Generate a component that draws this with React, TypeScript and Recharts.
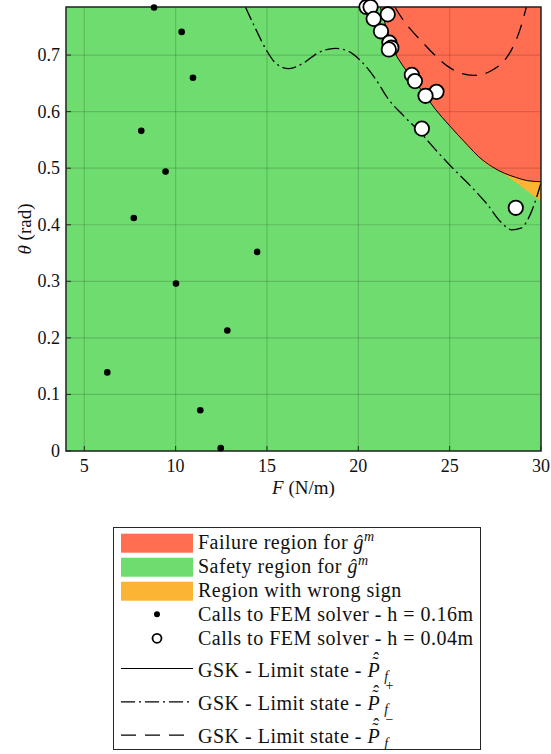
import { ComposedChart, XAxis, YAxis, CartesianGrid, Area, Line, Scatter, ReferenceArea, Label } from 'recharts'

const GREEN = '#6edc6e'
const RED = '#ff6e50'
const ORANGE = '#fbb434'
const INK = '#262626'
const FONT = "'Liberation Serif', 'DejaVu Serif', 'Noto Serif', serif"

const F_MIN = 4
const F_MAX = 30
const TH_MAX = 0.785

const fTicks = [5, 10, 15, 20, 25, 30]
const thetaTicks = [0, 0.1, 0.2, 0.3, 0.4, 0.5, 0.6, 0.7]

// GSK limit state, P_f
const limitF = [21.2, 21.5, 21.8, 22.0, 22.4, 23.0, 23.5, 24.2, 25.0, 26.0, 26.6, 27.3, 28.0, 28.6, 29.25, 30.0]
const limitTheta = [0.785, 0.752, 0.722, 0.705, 0.683, 0.657, 0.636, 0.605, 0.575, 0.54, 0.52, 0.503, 0.491, 0.484, 0.478, 0.476]

// upper bound P_f^+
const upperF = [13.82, 14.4, 15.0, 15.5, 16.2, 17.0, 17.8, 18.75, 19.5, 20.03, 21.0, 21.58, 22.5, 23.4, 24.3, 25.23, 26.1, 27.06, 27.8, 28.4, 28.9, 29.45, 30.0]
const upperTheta = [0.785, 0.745, 0.707, 0.685, 0.676, 0.686, 0.704, 0.712, 0.706, 0.693, 0.655, 0.625, 0.592, 0.563, 0.53, 0.498, 0.47, 0.436, 0.405, 0.391, 0.394, 0.421, 0.474]

// lower bound P_f^-
const lowerF = [22.0, 22.5, 22.9, 23.5, 24.0, 24.9, 25.6, 26.3, 27.2, 27.8, 28.33, 28.85, 29.2]
const lowerTheta = [0.785, 0.76, 0.744, 0.723, 0.706, 0.68, 0.668, 0.664, 0.671, 0.684, 0.706, 0.745, 0.785]

// sliver where the surrogate has the wrong sign
const wrongF = [25.0, 26.0, 27.0, 28.0, 29.0, 30.0]
const wrongTheta = [0.573, 0.538, 0.507, 0.489, 0.466, 0.441]

// FEM calls, h = 0.16m
const coarseF = [8.82, 10.33, 10.95, 8.12, 9.45, 7.71, 10.02, 14.46, 12.83, 6.26, 11.35, 12.47]
const coarseTheta = [0.784, 0.741, 0.66, 0.566, 0.494, 0.412, 0.296, 0.352, 0.213, 0.139, 0.072, 0.005]

// FEM calls, h = 0.04m
const fineF = [20.45, 20.67, 21.61, 20.84, 21.24, 21.7, 21.81, 21.67, 22.93, 23.1, 24.28, 23.68, 23.48, 28.62]
const fineTheta = [0.785, 0.785, 0.772, 0.764, 0.742, 0.722, 0.713, 0.71, 0.665, 0.654, 0.635, 0.628, 0.57, 0.43]

const zip = (fs: number[], ts: number[]) => fs.map((F, i) => ({ F, theta: ts[i] }))

const limit = zip(limitF, limitTheta)
const upper = zip(upperF, upperTheta)
const lower = zip(lowerF, lowerTheta)
const coarse = zip(coarseF, coarseTheta)
const fine = zip(fineF, fineTheta)
const failureBand = limit.map((p) => ({ F: p.F, band: [p.theta, TH_MAX] }))
const wrongBand = wrongF.map((F, i) => ({ F, band: [wrongTheta[i], TH_MAX] }))

const DASH_DOT = '14 4 2 4'
const DASHED = '15 9'
const TICK_LEN = 5

function FTick({ x, y, payload }: any) {
  return (
    <g>
      <line x1={x} x2={x} y1={y} y2={y - TICK_LEN} stroke={INK} />
      <text x={x} y={y + 21} textAnchor="middle" fontFamily={FONT} fontSize={18} fill="#111">
        {payload.value}
      </text>
    </g>
  )
}

function ThetaTick({ x, y, payload }: any) {
  return (
    <g>
      <line x1={x} x2={x + TICK_LEN} y1={y} y2={y} stroke={INK} />
      <text x={x - 6} y={y + 6} textAnchor="end" fontFamily={FONT} fontSize={18} fill="#111">
        {payload.value}
      </text>
    </g>
  )
}

// box ticks on the top and right edges, no labels
function TopTick({ x, y }: any) {
  return <line x1={x} x2={x} y1={y} y2={y + TICK_LEN} stroke={INK} />
}

function RightTick({ x, y }: any) {
  return <line x1={x} x2={x - TICK_LEN} y1={y} y2={y} stroke={INK} />
}

function FTitle({ viewBox }: any) {
  const vb = viewBox ?? { x: 66, y: 451, width: 475, height: 51 }
  return (
    <text x={vb.x + vb.width / 2} y={vb.y + 43} textAnchor="middle" fontFamily={FONT} fontSize={19} fill="#111">
      <tspan fontStyle="italic">F</tspan> (N/m)
    </text>
  )
}

function ThetaTitle({ viewBox }: any) {
  const vb = viewBox ?? { x: 0, y: 7, width: 66, height: 444 }
  const cy = vb.y + vb.height / 2
  return (
    <text x={31} y={cy} transform={`rotate(-90 31 ${cy})`} textAnchor="middle" fontFamily={FONT} fontSize={19} fill="#111">
      <tspan fontStyle="italic">θ</tspan> (rad)
    </text>
  )
}

function CoarseDot({ cx, cy }: any) {
  return <circle cx={cx} cy={cy} r={3.3} fill="#000" />
}

function FineDot({ cx, cy }: any) {
  return <circle cx={cx} cy={cy} r={7.2} fill="#fff" stroke="#000" strokeWidth={1.8} />
}

// legend, laid out in its own svg box
const LEG_W = 368
const LEG_H = 223
const TEXT_X = 85
const SYM_X = 8
const SYM_W = 72

// ĝ^m
const gHat = [
  <tspan key="g" fontStyle="italic">ĝ</tspan>,
  <tspan key="m" fontStyle="italic" fontSize={14} dy={-8}>m</tspan>,
]

// P_f with tilde and hat, optional +/− bound marker
function pf(sign?: string) {
  return [
    <tspan key="P" fontStyle="italic">P</tspan>,
    <tspan key="t" fontSize={18} dx={-8} dy={-7}>˜</tspan>,
    <tspan key="h" fontSize={18} dx={-5.5} dy={-5}>ˆ</tspan>,
    <tspan key="f" fontStyle="italic" fontSize={14} dx={4.5} dy={16.5}>f</tspan>,
    sign ? <tspan key="s" fontSize={14} dx={-3} dy={-24}>{sign}</tspan> : null,
  ]
}

type LegendRow = { cy: number; kind: 'swatch' | 'dot' | 'ring' | 'line'; color?: string; dash?: string; text: any[] }

const legendRows: LegendRow[] = [
  { cy: 15.7, kind: 'swatch', color: RED, text: ['Failure region for ', ...gHat] },
  { cy: 39.7, kind: 'swatch', color: GREEN, text: ['Safety region for ', ...gHat] },
  { cy: 63.7, kind: 'swatch', color: ORANGE, text: ['Region with wrong sign'] },
  { cy: 87.3, kind: 'dot', text: ['Calls to FEM solver - h = 0.16m'] },
  { cy: 111.3, kind: 'ring', text: ['Calls to FEM solver - h = 0.04m'] },
  { cy: 143, kind: 'line', text: ['GSK - Limit state - ', ...pf()] },
  { cy: 176.3, kind: 'line', dash: DASH_DOT, text: ['GSK - Limit state - ', ...pf('+')] },
  { cy: 209.7, kind: 'line', dash: DASHED, text: ['GSK - Limit state - ', ...pf('−')] },
]

function LegendSymbol({ row }: { row: LegendRow }) {
  const mid = SYM_X + SYM_W / 2
  if (row.kind === 'swatch') return <rect x={SYM_X} y={row.cy - 9} width={SYM_W} height={19} fill={row.color} />
  if (row.kind === 'dot') return <circle cx={mid} cy={row.cy} r={3} fill="#000" />
  if (row.kind === 'ring') return <circle cx={mid} cy={row.cy} r={4.5} fill="#fff" stroke="#000" strokeWidth={1.8} />
  return <line x1={SYM_X} x2={SYM_X + SYM_W} y1={row.cy - 1.5} y2={row.cy - 1.5} stroke="#000" strokeWidth={1.2} strokeDasharray={row.dash} />
}

function LegendBox() {
  return (
    <svg width={LEG_W} height={LEG_H} style={{ position: 'absolute', left: 113, top: 527 }}>
      <rect x={0.5} y={0.5} width={LEG_W - 1} height={LEG_H - 1} fill="#fff" stroke={INK} />
      {legendRows.map((row, i) => (
        <g key={i}>
          <LegendSymbol row={row} />
          <text x={TEXT_X} y={row.cy + 6.6} fontFamily={FONT} fontSize={20} letterSpacing={0.5} fill="#111">
            {row.text}
          </text>
        </g>
      ))}
    </svg>
  )
}

export default function App() {
  return (
    <div style={{ position: 'absolute', left: 0, top: 0, width: 551, height: 754, background: '#fff' }}>
      <ComposedChart width={551} height={502} margin={{ top: 7, right: 10, bottom: 0, left: 0 }}>
        <XAxis
          dataKey="F"
          type="number"
          domain={[F_MIN, F_MAX]}
          ticks={fTicks}
          height={51}
          axisLine={false}
          tickLine={false}
          tickSize={0}
          tickMargin={0}
          tick={FTick}
        >
          <Label content={FTitle} />
        </XAxis>
        <XAxis
          xAxisId="top"
          orientation="top"
          type="number"
          domain={[F_MIN, F_MAX]}
          ticks={fTicks}
          height={0}
          axisLine={false}
          tickLine={false}
          tickSize={0}
          tickMargin={0}
          tick={TopTick}
        />
        <YAxis
          dataKey="theta"
          type="number"
          domain={[0, TH_MAX]}
          ticks={thetaTicks}
          width={66}
          axisLine={false}
          tickLine={false}
          tickSize={0}
          tickMargin={0}
          tick={ThetaTick}
        >
          <Label content={ThetaTitle} />
        </YAxis>
        <YAxis
          yAxisId="right"
          orientation="right"
          type="number"
          domain={[0, TH_MAX]}
          ticks={thetaTicks}
          width={0}
          axisLine={false}
          tickLine={false}
          tickSize={0}
          tickMargin={0}
          tick={RightTick}
        />
        <ReferenceArea x1={F_MIN} x2={F_MAX} y1={0} y2={TH_MAX} fill={GREEN} fillOpacity={1} stroke="none" zIndex={-200} />
        <Area
          data={wrongBand}
          dataKey="band"
          type="monotone"
          fill={ORANGE}
          fillOpacity={1}
          stroke="none"
          dot={false}
          activeDot={false}
          isAnimationActive={false}
          zIndex={90}
        />
        <Area
          data={failureBand}
          dataKey="band"
          type="monotone"
          fill={RED}
          fillOpacity={1}
          stroke="none"
          dot={false}
          activeDot={false}
          isAnimationActive={false}
          zIndex={100}
        />
        <CartesianGrid stroke="#000" strokeOpacity={0.15} strokeWidth={1.2} zIndex={150} />
        <Line data={limit} dataKey="theta" type="monotone" stroke="#000" strokeWidth={1} dot={false} activeDot={false} isAnimationActive={false} />
        <Line data={upper} dataKey="theta" type="monotone" stroke="#000" strokeWidth={1.3} strokeDasharray={DASH_DOT} dot={false} activeDot={false} isAnimationActive={false} />
        <Line data={lower} dataKey="theta" type="monotone" stroke="#000" strokeWidth={1.3} strokeDasharray={DASHED} dot={false} activeDot={false} isAnimationActive={false} />
        <ReferenceArea x1={F_MIN} x2={F_MAX} y1={0} y2={TH_MAX} fill="none" stroke={INK} strokeWidth={1.5} zIndex={550} />
        <Scatter data={coarse} dataKey="theta" shape={CoarseDot} isAnimationActive={false} />
        <Scatter data={fine} dataKey="theta" shape={FineDot} isAnimationActive={false} />
      </ComposedChart>
      <LegendBox />
    </div>
  )
}
